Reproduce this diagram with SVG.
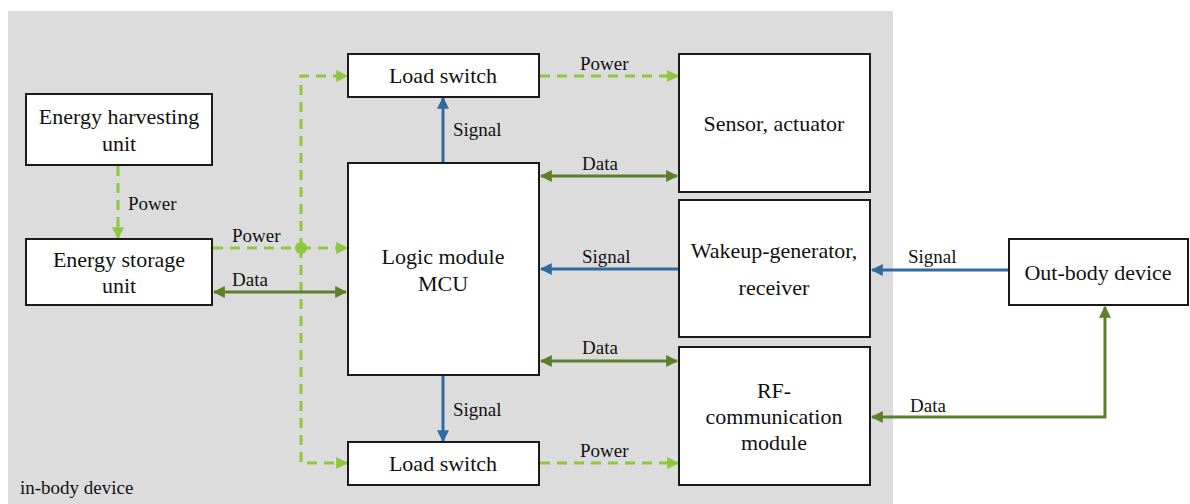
<svg xmlns="http://www.w3.org/2000/svg" width="1190" height="504" viewBox="0 0 1190 504">
<defs>
<marker id="ag" viewBox="0 0 10 10" refX="9" refY="5" markerWidth="4" markerHeight="4" orient="auto-start-reverse" markerUnits="strokeWidth"><path d="M0,0 L10,5 L0,10 z" fill="#8dc63f"/></marker>
<marker id="ad" viewBox="0 0 10 10" refX="9" refY="5" markerWidth="4" markerHeight="4" orient="auto-start-reverse" markerUnits="strokeWidth"><path d="M0,0 L10,5 L0,10 z" fill="#5b7f2a"/></marker>
<marker id="ab" viewBox="0 0 10 10" refX="9" refY="5" markerWidth="4" markerHeight="4" orient="auto-start-reverse" markerUnits="strokeWidth"><path d="M0,0 L10,5 L0,10 z" fill="#2f6aa0"/></marker>
</defs>
<style>
.box{fill:#fff;stroke:#1a1a1a;stroke-width:2}
text{font-family:'Liberation Serif','Times New Roman','DejaVu Serif',serif;fill:#111}
.t{font-size:22px;text-anchor:middle}
.l{font-size:19px}
.pw{fill:none;stroke:#8dc63f;stroke-width:3;stroke-dasharray:10 7;marker-end:url(#ag)}
.pwn{fill:none;stroke:#8dc63f;stroke-width:3;stroke-dasharray:10 7}
.da{fill:none;stroke:#5b7f2a;stroke-width:3;marker-start:url(#ad);marker-end:url(#ad)}
.sg{fill:none;stroke:#2f6aa0;stroke-width:3;marker-end:url(#ab)}
</style>
<rect x="8" y="11" width="885" height="493" fill="#dcdcdc"/>
<text class="l" x="20" y="494">in-body device</text>

<g id="connectors">
<path class="pw" d="M118,166 V238"/>
<text class="l" x="128" y="210">Power</text>
<path class="pwn" d="M213,248 H301"/>
<path class="pw" d="M301,248 H347"/>
<circle cx="301" cy="248" r="6" fill="#8dc63f"/>
<text class="l" x="232" y="242">Power</text>
<path class="pw" d="M301,248 V76 H347"/>
<path class="pw" d="M301,248 V463 H347"/>
<path class="da" d="M214,292 H346"/>
<text class="l" x="232" y="286">Data</text>
<path class="sg" d="M443,163 V98"/>
<text class="l" x="453" y="136">Signal</text>
<path class="sg" d="M443,376 V441"/>
<text class="l" x="453" y="416">Signal</text>
<path class="pw" d="M540,76 H678"/>
<text class="l" x="580" y="70">Power</text>
<path class="da" d="M541,176 H677"/>
<text class="l" x="582" y="170">Data</text>
<path class="sg" d="M679,269 H541"/>
<text class="l" x="582" y="263">Signal</text>
<path class="da" d="M541,361 H677"/>
<text class="l" x="582" y="354">Data</text>
<path class="pw" d="M540,463 H678"/>
<text class="l" x="580" y="457">Power</text>
<path class="sg" d="M1009,270 H872"/>
<text class="l" x="908" y="263">Signal</text>
<path class="da" d="M872,417 H1105 V307"/>
<text class="l" x="910" y="412">Data</text>
</g>

<g id="energy-harvesting"><rect class="box" x="26" y="94" width="186" height="71"/><text class="t" x="119" y="124">Energy harvesting</text><text class="t" x="119" y="151">unit</text></g>
<g id="energy-storage"><rect class="box" x="26" y="239" width="186" height="66"/><text class="t" x="119" y="267">Energy storage</text><text class="t" x="119" y="293">unit</text></g>
<g id="load-switch-top"><rect class="box" x="348" y="54" width="191" height="43"/><text class="t" x="443" y="83">Load switch</text></g>
<g id="logic-module"><rect class="box" x="348" y="163" width="191" height="212"/><text class="t" x="443" y="264">Logic module</text><text class="t" x="443" y="291">MCU</text></g>
<g id="load-switch-bottom"><rect class="box" x="348" y="442" width="191" height="43"/><text class="t" x="443" y="471">Load switch</text></g>
<g id="sensor"><rect class="box" x="679" y="54" width="191" height="138"/><text class="t" x="774" y="131">Sensor, actuator</text></g>
<g id="wakeup"><rect class="box" x="679" y="200" width="191" height="137"/><text class="t" x="774" y="258">Wakeup-generator,</text><text class="t" x="774" y="295">receiver</text></g>
<g id="rf"><rect class="box" x="679" y="347" width="191" height="138"/><text class="t" x="774" y="398">RF-</text><text class="t" x="774" y="424">communication</text><text class="t" x="774" y="450">module</text></g>
<g id="out-body"><rect class="box" x="1009" y="239" width="179" height="66"/><text class="t" x="1098" y="280">Out-body device</text></g>
</svg>
